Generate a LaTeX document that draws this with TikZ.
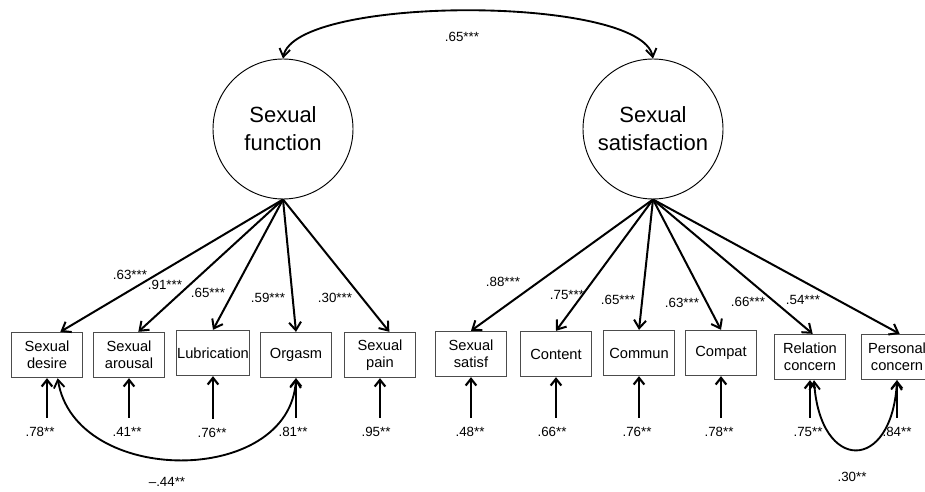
\documentclass[tikz,border=0pt]{standalone}
\usepackage{fontspec}
\setmainfont{Liberation Sans}
\usetikzlibrary{arrows.meta}

\tikzset{every picture/.style={line width=0.75pt}}
\tikzset{
  latent/.style={circle, draw, line width=0.7pt, minimum size=105pt, inner sep=0pt, align=center, font=\fontsize{16.5}{21}\selectfont},
  manifest/.style={rectangle, draw=black!70, line width=1pt, minimum width=53.25pt, minimum height=33.75pt, inner sep=0.3pt, align=center, font=\fontsize{11}{12.75}\selectfont},
  coef/.style={inner sep=0pt, font=\fontsize{10}{11}\selectfont},
  loading/.style={-{Straight Barb[length=6pt,width=9pt]}, line width=1.5pt},
  errarrow/.style={-{Straight Barb[length=5pt,width=8pt]}, line width=1.6pt},
  covarrow/.style={{Straight Barb[length=6pt,width=8pt]}-{Straight Barb[length=6pt,width=8pt]}, line width=1.4pt}
}

\begin{document}
\begin{tikzpicture}[x=0.75pt,y=0.75pt,yscale=-1,xscale=1]
\useasboundingbox (0,0) rectangle (925,492);

%Shape: Circle [id:latent1]
\node [latent] (sf) at (283,129) {Sexual\\function};
%Shape: Circle [id:latent2]
\node [latent] (ss) at (653,129) {Sexual\\satisfaction};

%Shape: Rectangle [id:fsfi]
\node [manifest] (sd) at (47,355) {Sexual\\desire};
\node [manifest] (sa) at (129,355) {Sexual\\arousal};
\node [manifest] (lu) at (213,353) {Lubrication};
\node [manifest] (og) at (296,355) {Orgasm};
\node [manifest] (sp) at (380,355) {Sexual\\pain};
%Shape: Rectangle [id:gmsex]
\node [manifest] (st) at (471,354) {Sexual\\satisf};
\node [manifest] (ct) at (556,354) {Content};
\node [manifest] (cm) at (639,353) {Commun};
\node [manifest] (cp) at (721,353) {Compat};
\node [manifest] (rc) at (810,357) {Relation\\concern};
\node [manifest] (pc) at (897,357) {Personal\\concern};

%Curve Lines [id:cov_latent]
\draw [covarrow] (sf.north) .. controls (295,-5) and (641,-5) .. (ss.north);

%Straight Lines [id:loadings]
\draw [loading] (sf.south) -- ([xshift=10pt]sd.north);
\draw [loading] (sf.south) -- ([xshift=7pt]sa.north);
\draw [loading] (sf.south) -- (lu.north);
\draw [loading] (sf.south) -- (og.north);
\draw [loading] (sf.south) -- ([xshift=7pt]sp.north);
\draw [loading] (ss.south) -- (st.north);
\draw [loading] (ss.south) -- (ct.north);
\draw [loading] (ss.south) -- (cm.north);
\draw [loading] (ss.south) -- (cp.north);
\draw [loading] (ss.south) -- ([xshift=2pt]rc.north);
\draw [loading] (ss.south) -- ([xshift=2pt]pc.north);

% Text Node
\node [coef] (l1) at (130,275) {.63***};
\node [coef] (l2) at (165,285) {.91***};
\node [coef] (l3) at (208,293) {.65***};
\node [coef] (l4) at (268,298) {.59***};
\node [coef] (l5) at (335,298) {.30***};
\node [coef] (l6) at (503,282) {.88***};
\node [coef] (l7) at (567,295) {.75***};
\node [coef] (l8) at (618,300) {.65***};
\node [coef] (l9) at (682,303) {.63***};
\node [coef] (l10) at (748,302) {.66***};
\node [coef] (l11) at (803,300) {.54***};
\node [coef] (r0) at (462,37) {.65***};

% Text Node
\node [coef, anchor=north] (e1) at (40,427) {.78**};
\node [coef, anchor=north] (e2) at (127,427) {.41**};
\node [coef, anchor=north] (e3) at (212,428) {.76**};
\node [coef, anchor=north] (e4) at (293,427) {.81**};
\node [coef, anchor=north] (e5) at (376,427) {.95**};
\node [coef, anchor=north] (e6) at (470,427) {.48**};
\node [coef, anchor=north] (e7) at (552,427) {.66**};
\node [coef, anchor=north] (e8) at (637,427) {.76**};
\node [coef, anchor=north] (e9) at (719,427) {.78**};
\node [coef, anchor=north] (e10) at (808,427) {.75**};
\node [coef, anchor=north] (e11) at (897,427) {.84**};

%Straight Lines [id:errors]
\draw [errarrow] ([yshift=-7pt]sd.south |- e1.north) -- (sd.south);
\draw [errarrow] ([yshift=-7pt]sa.south |- e2.north) -- (sa.south);
\draw [errarrow] ([yshift=-7pt]lu.south |- e3.north) -- (lu.south);
\draw [errarrow] ([yshift=-7pt]og.south |- e4.north) -- (og.south);
\draw [errarrow] ([yshift=-7pt]sp.south |- e5.north) -- (sp.south);
\draw [errarrow] ([yshift=-7pt]st.south |- e6.north) -- (st.south);
\draw [errarrow] ([yshift=-7pt]ct.south |- e7.north) -- (ct.south);
\draw [errarrow] ([yshift=-7pt]cm.south |- e8.north) -- (cm.south);
\draw [errarrow] ([yshift=-7pt]cp.south |- e9.north) -- (cp.south);
\draw [errarrow] ([yshift=-7pt]rc.south |- e10.north) -- (rc.south);
\draw [errarrow] ([yshift=-7pt]pc.south |- e11.north) -- (pc.south);

%Curve Lines [id:cov_errors]
\draw [covarrow] ([xshift=8pt]sd.south) .. controls (75,487) and (290,487) .. (og.south);
\draw [covarrow] ([xshift=3pt]rc.south) .. controls (820,473) and (892,473) .. (pc.south);

% Text Node
\node [coef] (c1) at (167,482) {\textendash.44**};
\node [coef] (c2) at (852,477) {.30**};

\end{tikzpicture}
\end{document}
